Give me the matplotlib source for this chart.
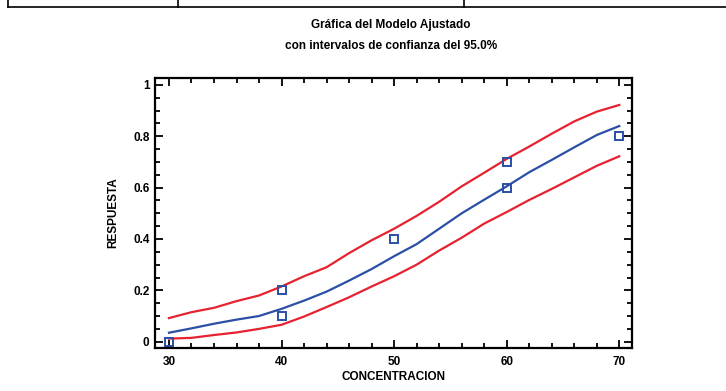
import numpy as np
import matplotlib.pyplot as plt
from matplotlib.ticker import MultipleLocator

# observed data
conc_obs = [30, 40, 40, 50, 60, 60, 70]
resp_obs = [0.0, 0.2, 0.1, 0.4, 0.7, 0.6, 0.8]

# fitted model and 95% confidence limits
conc_fit = [30, 32, 34, 36, 38, 40, 42, 44, 46, 48, 50,
            52, 54, 56, 58, 60, 62, 64, 66, 68, 70]
fit = [0.035, 0.052, 0.070, 0.086, 0.100, 0.128, 0.160, 0.195, 0.238, 0.283, 0.333,
       0.380, 0.440, 0.500, 0.553, 0.605, 0.660, 0.708, 0.757, 0.805, 0.840]
upper = [0.092, 0.115, 0.132, 0.158, 0.180, 0.215, 0.255, 0.290, 0.345, 0.395, 0.440,
         0.490, 0.545, 0.605, 0.658, 0.712, 0.760, 0.810, 0.858, 0.896, 0.922]
lower = [0.012, 0.015, 0.026, 0.036, 0.050, 0.066, 0.098, 0.135, 0.173, 0.215, 0.255,
         0.300, 0.355, 0.405, 0.460, 0.505, 0.552, 0.595, 0.640, 0.685, 0.722]

blue = '#2a4fa5'
red = '#e62230'
fam = ['Liberation Sans', 'DejaVu Sans']

fig = plt.figure(figsize=(7.26, 3.91), dpi=100)

# table border remnant at the top
fig.add_artist(plt.Line2D([8/726, 1], [1 - 7/391, 1 - 7/391], color='black', lw=1.2))
for xp in [8, 178, 464]:
    fig.add_artist(plt.Line2D([xp/726, xp/726], [1 - 7/391, 1], color='black', lw=1.2))

fig.text(391/726, 1 - 25/391, 'Gráfica del Modelo Ajustado', ha='center', va='center',
         fontsize=8.5, family=fam, fontweight='bold')
fig.text(391/726, 1 - 46/391, 'con intervalos de confianza del 95.0%', ha='center', va='center',
         fontsize=8.5, family=fam, fontweight='bold')

ax = fig.add_axes([155/726, 43/391, 477/726, 270/391])
ax.plot(conc_fit, upper, color=red, lw=1.6)
ax.plot(conc_fit, lower, color=red, lw=1.6)
ax.plot(conc_fit, fit, color=blue, lw=1.6)
ax.plot(conc_obs, resp_obs, 's', mfc='none', mec=blue, mew=1.4, ms=5.5, clip_on=False)

ax.set_xlim(28.76, 71.13)
ax.set_ylim(-0.0245, 1.027)
ax.xaxis.set_major_locator(MultipleLocator(10))
ax.xaxis.set_minor_locator(MultipleLocator(2))
ax.yaxis.set_major_locator(MultipleLocator(0.2))
ax.yaxis.set_minor_locator(MultipleLocator(0.05))
ax.set_yticks([0, 0.2, 0.4, 0.6, 0.8, 1.0])
ax.set_yticklabels(['0', '0.2', '0.4', '0.6', '0.8', '1'])

ax.tick_params(which='both', direction='in', top=True, right=True, width=1.3)
ax.tick_params(which='major', length=6)
ax.tick_params(which='minor', length=3.5)
ax.tick_params(axis='x', pad=6)
ax.tick_params(axis='y', pad=4)
for lab in ax.get_xticklabels() + ax.get_yticklabels():
    lab.set_family(fam)
    lab.set_fontweight('bold')
    lab.set_fontsize(8.5)
for s in ax.spines.values():
    s.set_linewidth(1.6)

ax.set_xlabel('CONCENTRACION', fontsize=8.5, fontweight='bold', family=fam, labelpad=2)
ax.set_ylabel('RESPUESTA', fontsize=8.5, fontweight='bold', family=fam, labelpad=10)

fig.savefig('out.png', dpi=100)
